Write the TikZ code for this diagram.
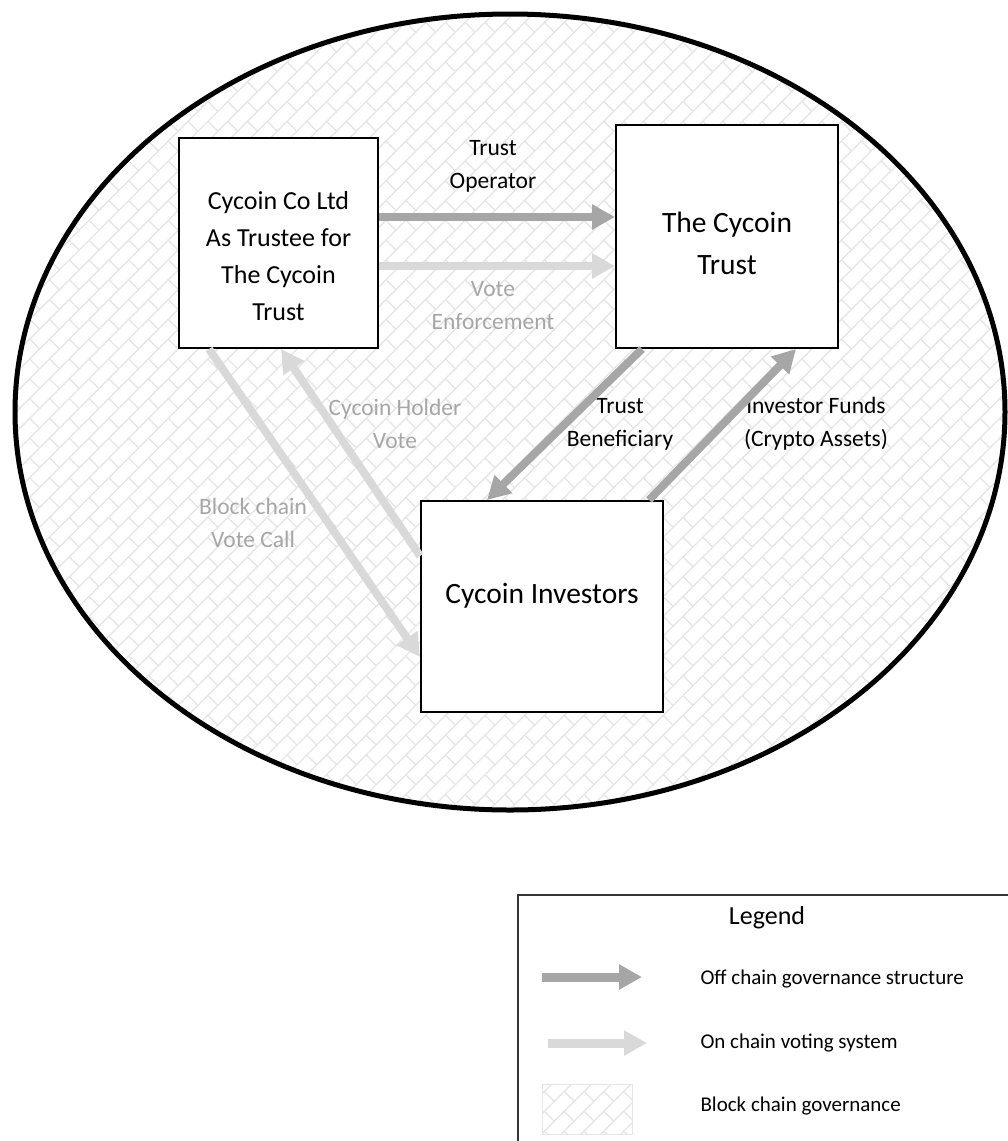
\documentclass[tikz,border=0pt]{standalone}
\usepackage{fontspec}
\setmainfont{Carlito}
\usetikzlibrary{positioning}
\usetikzlibrary{arrows.meta}
\usetikzlibrary{patterns.meta}

\definecolor{offgray}{HTML}{A6A6A6}
\definecolor{ongray}{HTML}{D9D9D9}
\definecolor{hatchgray}{HTML}{E6E6E6}

% diagonal brick fill
\pgfdeclarepattern{
  name=DiagBrick,
  type=uncolored,
  bottom left={\pgfpoint{-1pt}{-1pt}},
  top right={\pgfpoint{29pt}{29pt}},
  tile size={\pgfpoint{28pt}{28pt}},
  tile transformation={\pgftransformrotate{45}},
  code={
    \pgfsetlinewidth{1.4pt}
    \pgfpathmoveto{\pgfpoint{-1pt}{0pt}}\pgfpathlineto{\pgfpoint{29pt}{0pt}}
    \pgfpathmoveto{\pgfpoint{-1pt}{14pt}}\pgfpathlineto{\pgfpoint{29pt}{14pt}}
    \pgfpathmoveto{\pgfpoint{0pt}{0pt}}\pgfpathlineto{\pgfpoint{0pt}{14pt}}
    \pgfpathmoveto{\pgfpoint{14pt}{14pt}}\pgfpathlineto{\pgfpoint{14pt}{28pt}}
    \pgfusepath{stroke}
  }
}

\begin{document}
\begin{tikzpicture}[x=1pt,y=-1pt,
    box/.style={draw,line width=2pt,fill=white},
    boxtext/.style={align=center},
    offarrow/.style={draw=offgray,line width=8pt,-{Triangle[length=23pt,width=24pt]}},
    onarrow/.style={draw=ongray,line width=8pt,-{Triangle[length=23pt,width=24pt]}},
    lbl/.style={align=center,font=\fontsize{23.5}{33}\selectfont},
    greylbl/.style={lbl,text=offgray},
    hatch/.style={pattern=DiagBrick,pattern color=hatchgray}]
    \useasboundingbox (0,0) rectangle (1008,1141);
    \clip (0,0) rectangle (1008,1141);

    % block chain governance area
    \draw[line width=5pt,hatch] (510,412) ellipse [x radius=495pt,y radius=398pt];

    % Boxes
    \node[box,minimum width=199pt,minimum height=210pt,
          label={[boxtext,yshift=-13pt,font=\fontsize{26}{37}\selectfont]center:{Cycoin Co Ltd\\As Trustee for\\The Cycoin\\Trust}}]
          (trustee) at (278.5,243) {};
    \node[box,minimum width=222pt,minimum height=223pt,
          label={[boxtext,yshift=-7pt,font=\fontsize{29.5}{42}\selectfont]center:{The Cycoin\\Trust}}]
          (trust) at (727,236.5) {};
    \node[box,minimum width=242pt,minimum height=211pt,
          label={[boxtext,yshift=11pt,font=\fontsize{29.5}{42}\selectfont]center:{Cycoin Investors}}]
          (investors) at (542,606.5) {};

    % Labels
    \node[lbl] (opLbl) at (493,166) {Trust\\Operator};
    \node[greylbl] (enfLbl) at (493,306) {Vote\\Enforcement};
    \node[greylbl] (holderLbl) at (395,424) {Cycoin Holder\\Vote};
    \node[lbl] (benLbl) at (620,424) {Trust\\Beneficiary};
    \node[lbl] (fundsLbl) at (816,424) {Investor Funds\\(Crypto Assets)};
    \node[greylbl] (callLbl) at (253,523) {Block chain\\Vote Call};

    % Lines
    \draw[offarrow] ([yshift=26pt]trustee.east) -- ([yshift=26pt]trustee.east -| trust.west);
    \draw[onarrow] ([yshift=-23pt]trustee.east) -- ([yshift=-23pt]trustee.east -| trust.west);
    \draw[offarrow] ([xshift=27pt]trust.south west) -- ([xshift=67pt]investors.north west);
    \draw[offarrow] ([xshift=-15pt]investors.north east) -- ([xshift=-43pt]trust.south east);
    \draw[onarrow] ([yshift=-56pt]investors.north west) -- ([xshift=103pt]trustee.south west);
    \draw[onarrow] ([xshift=31pt]trustee.south west) -- ([yshift=-157pt]investors.north west);

    % Legend
    \node[draw=black!80,line width=2pt,minimum width=520pt,minimum height=280pt,anchor=north west] (legend) at (517,894) {};
    \node[font=\fontsize{26}{30}\selectfont] (legendTitle) at (767,918) {Legend};

    \coordinate (offS) at (542,977);
    \coordinate (offE) at (642,977);
    \coordinate (onS)  at (548,1043);
    \coordinate (onE)  at (647,1043);
    \draw[offarrow,line width=9pt] (offS) -- (offE);
    \draw[onarrow,line width=9pt] (onS) -- (onE);
    \node[draw=hatchgray,line width=1pt,hatch,minimum width=90pt,minimum height=50pt,anchor=north west] (swatch) at (542,1084) {};

    \node[anchor=west,font=\fontsize{21}{25}\selectfont] (offTxt) at (697,979) {Off chain governance structure};
    \node[anchor=west,font=\fontsize{21}{25}\selectfont] (onTxt) at (697,1043) {On chain voting system};
    \node[anchor=west,font=\fontsize{21}{25}\selectfont] (bcTxt) at (697,1106) {Block chain governance};
\end{tikzpicture}
\end{document}
